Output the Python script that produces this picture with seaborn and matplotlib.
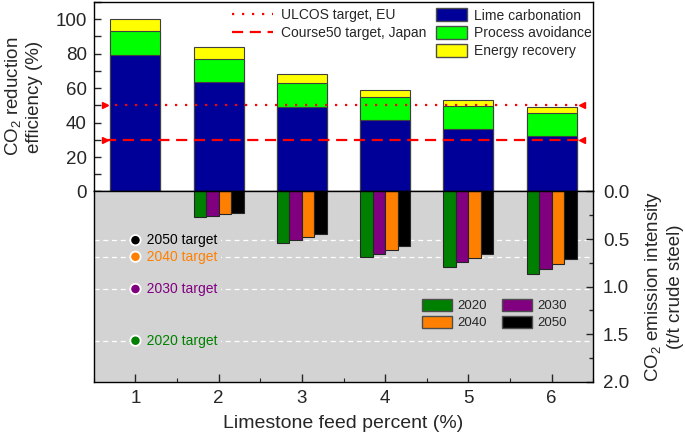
import numpy as np
import pandas as pd
import matplotlib
matplotlib.use('Agg')
import matplotlib.pyplot as plt
import seaborn as sns
from matplotlib.ticker import MultipleLocator
from matplotlib.patches import Patch
from matplotlib.lines import Line2D

# top panel: CO2 reduction efficiency (%)
feed = [1, 2, 3, 4, 5, 6]
lime = [79, 63.5, 49, 41.3, 36, 32.3]
process = [14, 13.2, 13.7, 13.5, 13.5, 13.3]
energy = [7, 7, 5.4, 4.4, 3.7, 3.2]
ulcos_target = 50
course50_target = 30

# bottom panel: CO2 emission intensity (t/t crude steel)
years = ['2020', '2030', '2040', '2050']
feed_em = [2, 3, 4, 5, 6]
em_2020 = [0.272, 0.54, 0.69, 0.791, 0.868]
em_2030 = [0.258, 0.512, 0.652, 0.739, 0.816]
em_2040 = [0.237, 0.477, 0.61, 0.697, 0.76]
em_2050 = [0.226, 0.442, 0.568, 0.652, 0.714]
year_targets = [1.569, 1.025, 0.686, 0.512]

year_colors = {'2020': '#008000', '2030': '#800080', '2040': '#FF8000', '2050': '#000000'}
gray_bg = '#D3D3D3'

sns.set_style('ticks')
plt.rcParams['font.family'] = ['Liberation Sans', 'DejaVu Sans']
plt.rcParams['mathtext.fontset'] = 'custom'
plt.rcParams['mathtext.rm'] = 'Liberation Sans'
plt.rcParams['mathtext.it'] = 'Liberation Sans:italic'

fig = plt.figure(figsize=(6.85, 4.38), dpi=100)
ax1 = fig.add_axes([0.137, 0.5628, 0.729, 0.4326])
ax2 = fig.add_axes([0.137, 0.1285, 0.729, 0.4343])

# stacked bars (drawn tallest first)
top = pd.DataFrame({'feed': feed, 'lime': lime, 'process': process, 'energy': energy})
top['lp'] = top['lime'] + top['process']
top['total'] = top['lp'] + top['energy']
for col, c in [('total', '#FFFF00'), ('lp', '#00FF00'), ('lime', '#000099')]:
    sns.barplot(data=top, x='feed', y=col, native_scale=True, width=0.6, color=c,
                saturation=1, edgecolor='0.25', linewidth=0.8, errorbar=None, ax=ax1)

# target lines
line_x = [0.63, 6.37]
ax1.plot(line_x, [ulcos_target] * 2, color='red', lw=1.6, ls=(0, (1, 3.5)))
ax1.plot(line_x, [course50_target] * 2, color='red', lw=1.6, ls=(0, (5, 3)))
for t in [ulcos_target, course50_target]:
    ax1.plot(line_x[0], t, marker='>', color='red', ms=4.5, mec='red')
    ax1.plot(line_x[1], t, marker='<', color='red', ms=4.5, mec='red')

ax1.set_xlim(0.5, 6.5)
ax1.set_ylim(0, 110)
ax1.yaxis.set_major_locator(MultipleLocator(20))
ax1.yaxis.set_minor_locator(MultipleLocator(10))
ax1.tick_params(axis='y', which='both', direction='in', length=5, width=1, labelsize=13.5, pad=5,
                right=False, left=True)
ax1.tick_params(axis='x', which='both', bottom=False, top=False, labelbottom=False)
ax1.set_xlabel('')
ax1.set_ylabel('CO$_2$ reduction\nefficiency (%)', fontsize=13.5, labelpad=9)

leg1 = ax1.legend(handles=[
    Line2D([], [], color='red', lw=1.6, ls=(0, (1, 3.5)), label='ULCOS target, EU'),
    Line2D([], [], color='red', lw=1.6, ls=(0, (5, 3)), label='Course50 target, Japan')],
    loc='upper left', bbox_to_anchor=(0.338, 0.982), bbox_transform=fig.transFigure,
    frameon=False, fontsize=10, handlelength=3.0, handletextpad=0.55, labelspacing=0.3,
    borderpad=0, borderaxespad=0)
ax1.add_artist(leg1)
ax1.legend(handles=[
    Patch(facecolor='#000099', edgecolor='0.3', label='Lime carbonation'),
    Patch(facecolor='#00FF00', edgecolor='0.3', label='Process avoidance'),
    Patch(facecolor='#FFFF00', edgecolor='0.3', label='Energy recovery')],
    loc='upper left', bbox_to_anchor=(0.6365, 0.981), bbox_transform=fig.transFigure,
    frameon=False, fontsize=10, handlelength=2.2, handleheight=1.05, handletextpad=0.55,
    labelspacing=0.25, borderpad=0, borderaxespad=0)

# grouped emission bars
em = pd.DataFrame({'feed': feed_em * 4,
                   'year': np.repeat(years, len(feed_em)),
                   'value': em_2020 + em_2030 + em_2040 + em_2050})
ax2.set_facecolor(gray_bg)
sns.barplot(data=em, x='feed', y='value', hue='year', hue_order=years, palette=year_colors,
            native_scale=True, width=0.6, saturation=1, edgecolor='0.15', linewidth=0.8,
            errorbar=None, legend=False, ax=ax2)

for yr, val in zip(years, year_targets):
    ax2.axhline(val, color='white', lw=0.9, ls=(0, (4, 3)), zorder=0.5)
    ax2.text(1, val, '   ' + yr + ' target', color=year_colors[yr], fontsize=10, va='center',
             ha='left', zorder=3,
             bbox=dict(facecolor=gray_bg, edgecolor='none', boxstyle='square,pad=0.2'))
sns.scatterplot(x=[1] * len(years), y=year_targets, hue=years, palette=year_colors, s=55,
                edgecolor='white', linewidth=1.3, legend=False, zorder=4, ax=ax2)

ax2.set_xlim(0.5, 6.5)
ax2.set_ylim(2.0, 0)
ax2.set_xticks(feed)
ax2.xaxis.set_minor_locator(MultipleLocator(0.5))
ax2.yaxis.set_major_locator(MultipleLocator(0.5))
ax2.yaxis.set_minor_locator(MultipleLocator(0.25))
ax2.yaxis.tick_right()
ax2.yaxis.set_label_position('right')
ax2.tick_params(axis='y', which='major', direction='in', length=5, width=1, labelsize=13.5, pad=7,
                left=False, right=True)
ax2.tick_params(axis='y', which='minor', direction='in', length=3, width=1, left=False, right=True)
ax2.tick_params(axis='x', which='major', direction='in', length=6, width=1, labelsize=13.5, pad=6)
ax2.tick_params(axis='x', which='minor', direction='in', length=3, width=0.8)
ax2.set_yticklabels([f'{v:.1f}' for v in ax2.get_yticks()])
ax2.set_xlabel('Limestone feed percent (%)', fontsize=14, labelpad=6)
ax2.set_ylabel('CO$_2$ emission intensity\n(t/t crude steel)', fontsize=13.5, labelpad=10)

ax2.legend(handles=[Patch(facecolor=year_colors[y], edgecolor='0.3', label=y)
                    for y in ['2020', '2040', '2030', '2050']],
           ncol=2, loc='upper left', bbox_to_anchor=(0.616, 0.318), bbox_transform=fig.transFigure,
           frameon=False, fontsize=9.5, handlelength=2.3, handleheight=1.05, handletextpad=0.4,
           labelspacing=0.25, columnspacing=1.1, borderpad=0, borderaxespad=0)

for ax in (ax1, ax2):
    for s in ax.spines.values():
        s.set_linewidth(1.0)
        s.set_color('black')

fig.savefig('out.png', dpi=100)
